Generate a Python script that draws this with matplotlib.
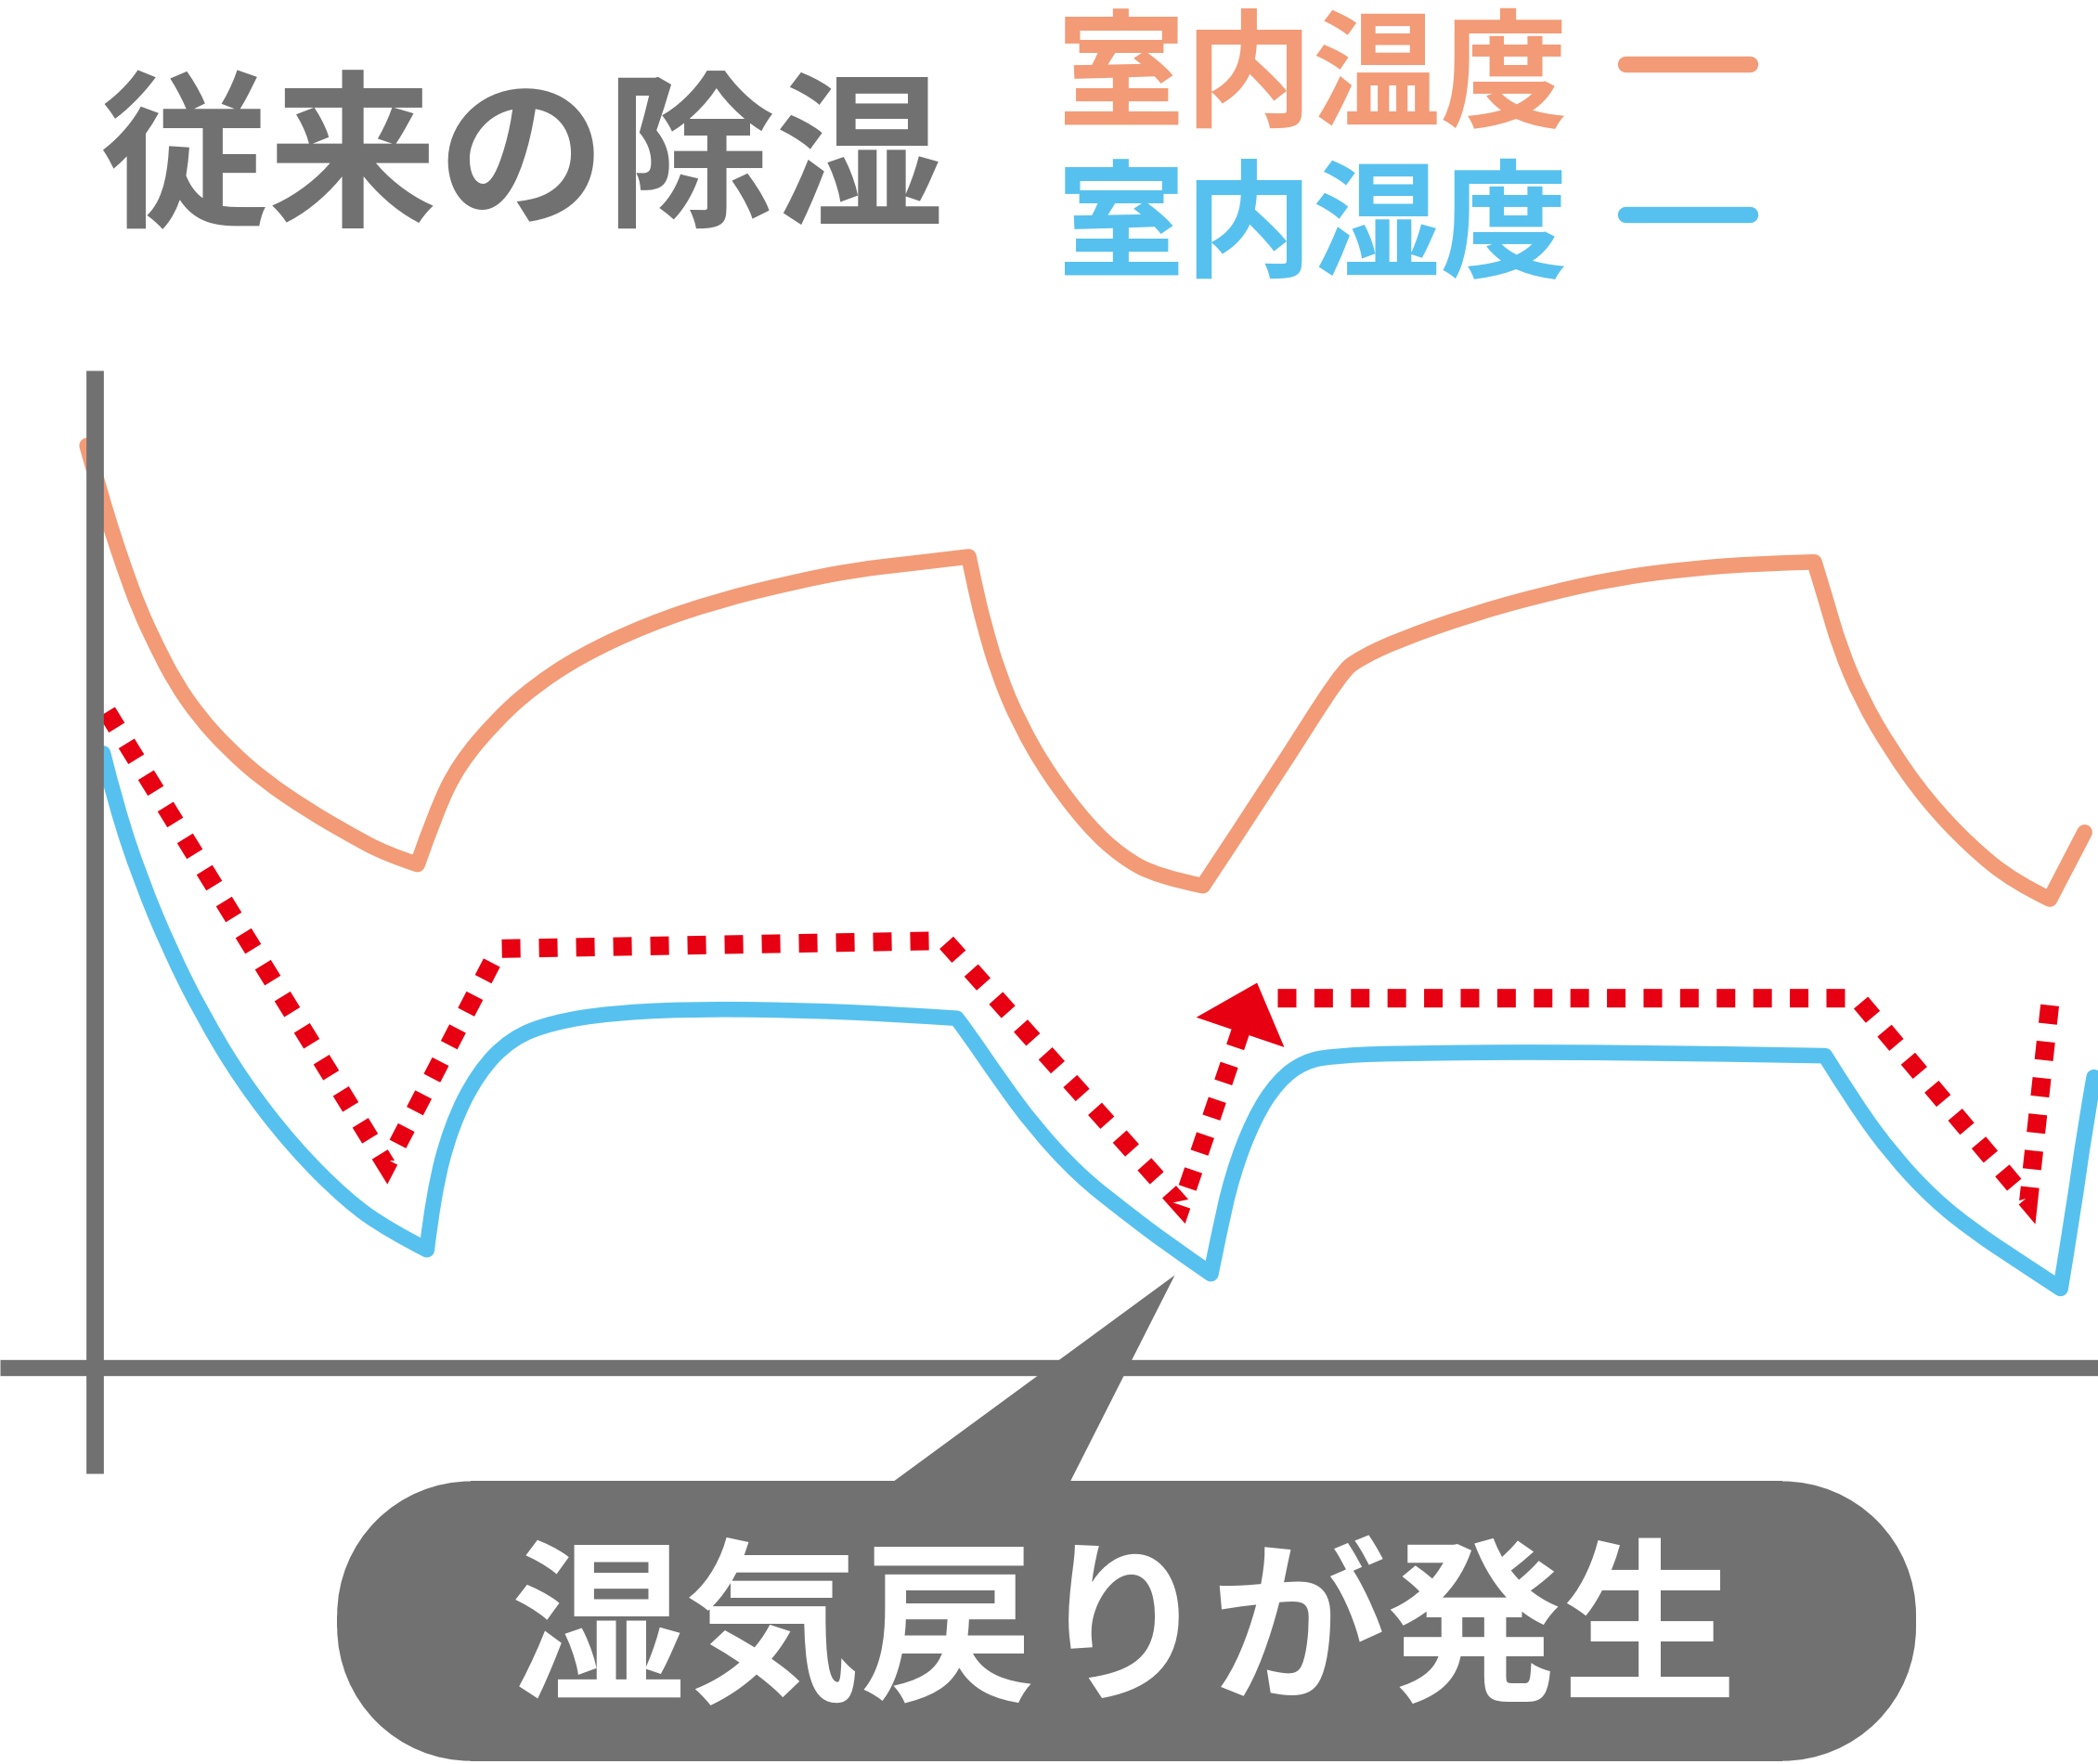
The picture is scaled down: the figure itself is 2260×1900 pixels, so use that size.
import matplotlib
matplotlib.use("Agg")
import matplotlib.pyplot as plt
import numpy as np
from matplotlib.path import Path
from matplotlib.patches import Circle, PathPatch, Polygon, Rectangle

plt.rcParams['font.family'] = ['Noto Sans CJK JP', 'DejaVu Sans']

# chart units: t = time from the vertical axis, v = level above the horizontal axis
temp_t = [-6, 3, 12, 22, 33, 46, 60, 78, 100, 126, 160, 191, 217, 241,
          255, 272, 301, 328, 363, 412, 465, 522, 567, 611, 653,
          658, 664, 675, 691, 713, 742, 767, 794, 828,
          883, 931, 945, 975, 1029, 1083, 1137, 1191, 1245, 1285,
          1293, 1304, 1320, 1342, 1369, 1401, 1434, 1461, 1487]
temp_v = [689, 657, 627, 597, 567, 539, 512, 486, 462, 439, 416, 398, 384, 376,
          416, 451, 485, 509, 532, 555, 573, 587, 596, 601, 606,
          582, 557, 519, 481, 443, 405, 382, 367, 360,
          443, 519, 530, 544, 563, 578, 590, 597, 601, 602,
          576, 538, 500, 462, 424, 390, 363, 350, 400]
temp_corners = [13, 24, 33, 43, 51]

hum_t = [6, 16, 34, 56, 80, 110, 148, 188, 219, 248,
         253, 266, 286, 311, 342, 386, 449, 529, 599, 644,
         651, 677, 702, 735, 769, 802, 834,
         840, 850, 866, 884, 904, 927, 974, 1129, 1293,
         1316, 1344, 1374, 1404, 1437, 1469,
         1479, 1487, 1494]
hum_v = [459, 419, 365, 312, 264, 214, 165, 125, 103, 88,
         130, 180, 220, 246, 258, 265, 268, 267, 264, 261,
         252, 214, 180, 144, 117, 92, 70,
         100, 144, 186, 214, 229, 233, 235, 236, 233,
         196, 158, 126, 102, 80, 59,
         120, 177, 217]
hum_corners = [9, 19, 26, 35, 41]

# red dotted guide: first part ends in an arrow head, second part is plain
dry_a_t = [9, 218, 302, 635, 812, 868.5]
dry_a_v = [490, 151, 313, 319, 121, 287.5]
dry_b_t = [884, 1317, 1445, 1461]
dry_b_v = [276, 276, 124, 271]

title = "従来の除湿"
legend_labels = ["室内温度", "室内湿度"]
callout = "湿気戻りが発生"

ORANGE = "#F29B76"
BLUE = "#56C1EF"
RED = "#E60012"
GRAY = "#727171"


def curve_path(t, v, corners):
    # quadratic pieces between read points, sharp at the corner points
    pts = np.column_stack([t, v]).astype(float)
    verts, codes = [pts[0]], [Path.MOVETO]
    bounds = [0] + corners + [len(pts) - 1]
    for a, b in zip(bounds[:-1], bounds[1:]):
        seg = pts[a:b + 1]
        if len(seg) == 2:
            verts.append(seg[1])
            codes.append(Path.LINETO)
            continue
        for i in range(1, len(seg) - 1):
            end = seg[i + 1] if i == len(seg) - 2 else (seg[i] + seg[i + 1]) / 2
            verts += [seg[i], end]
            codes += [Path.CURVE3, Path.CURVE3]
    return Path(verts, codes)


fig = plt.figure(figsize=(22.6, 19), dpi=100)
ax = fig.add_axes([0, 0, 1, 1])
ax.set_xlim(-71, 1497)
ax.set_ylim(1022 - 1318.3, 1022)
ax.axis("off")

# axes cross
ax.plot([0, 0], [-79, 745], color=GRAY, lw=13.5, solid_capstyle="butt", zorder=5)
ax.plot([-71, 1497], [0, 0], color=GRAY, lw=12.5, solid_capstyle="butt", zorder=5)

# curves
for t, v, corners, c in [(temp_t, temp_v, temp_corners, ORANGE),
                         (hum_t, hum_v, hum_corners, BLUE)]:
    ax.add_patch(PathPatch(curve_path(t, v, corners), fill=False, edgecolor=c,
                           lw=12, joinstyle="round", capstyle="round", zorder=3))

# dotted red path with arrow head
tip = np.array([dry_a_t[-1], dry_a_v[-1]], dtype=float)
prev = np.array([dry_a_t[-2], dry_a_v[-2]], dtype=float)
direction = (tip - prev) / np.linalg.norm(tip - prev)
base = tip - direction * 37
dotted = dict(color=RED, lw=14.4, dash_capstyle="butt",
              dash_joinstyle="miter", zorder=4)
ax.plot(dry_a_t[:-1] + [base[0]], dry_a_v[:-1] + [base[1]],
        linestyle=(0, (1, 1)), **dotted)
ax.annotate("", xy=tip, xytext=base,
            arrowprops=dict(arrowstyle="-|>,head_length=0.405,head_width=0.36",
                            mutation_scale=100, color=RED, lw=0,
                            shrinkA=0, shrinkB=0), zorder=4)
# gap trimmed a hair so this run ends on a whole dot
ax.plot(dry_b_t, dry_b_v, linestyle=(0, (1, 0.97)), **dotted)

# title and legend
ax.text(319, 899, title, fontsize=131, fontweight="bold", color=GRAY,
        ha="center", va="center")
for label, color, v in zip(legend_labels, [ORANGE, BLUE], [973, 861]):
    ax.text(910, v - 11, label, fontsize=99, fontweight="bold", color=color,
            ha="center", va="center")
    ax.plot([1144, 1237], [v + 1, v + 1], color=color, lw=12.5,
            solid_capstyle="round")

# callout bubble (pill with round ends) and its pointer
left, right, top, bottom, r = 181, 1361, -85, -294, 100
bubble = dict(facecolor=GRAY, edgecolor="none", zorder=6)
pointer_tip = np.array([807.0, 69.0])
pointer_base = [np.array([597.0, top]), np.array([729.0, top])]
# run the pointer edges a little into the bubble so no seam shows
sunk = [pointer_tip + (p - pointer_tip) * (pointer_tip[1] - top + 15) / (pointer_tip[1] - top)
        for p in pointer_base]
ax.add_patch(Polygon([sunk[0], sunk[1], pointer_tip], closed=True, **bubble))
ax.add_patch(Rectangle((left + r, bottom), right - left - 2 * r, top - bottom, **bubble))
ax.add_patch(Rectangle((left, bottom + r), right - left, top - bottom - 2 * r, **bubble))
for cx in (left + r, right - r):
    for cy in (top - r, bottom + r):
        ax.add_patch(Circle((cx, cy), r, **bubble))
ax.text(769, -201, callout, fontsize=136, fontweight="bold", color="white",
        ha="center", va="center", zorder=7)

fig.savefig("out.png", dpi=100)
